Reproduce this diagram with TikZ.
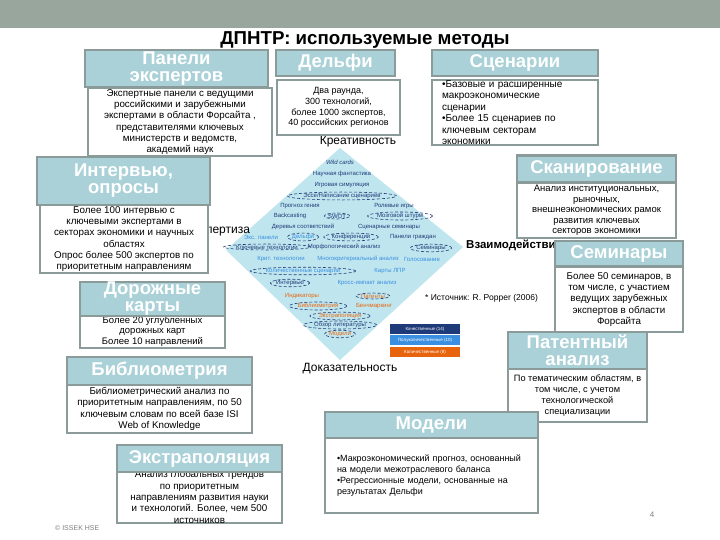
\documentclass[tikz,border=0pt]{standalone}
\usepackage{fontspec}
\setmainfont{Liberation Sans}
\usetikzlibrary{shapes.geometric}
\definecolor{barc}{HTML}{98A69D}
\definecolor{hdrc}{HTML}{A9D1D7}
\definecolor{brdc}{HTML}{8A9B9A}
\definecolor{diamc}{HTML}{BFE6EF}
\definecolor{dkb}{HTML}{1F3A78}
\definecolor{ltb}{HTML}{3A8FE0}
\definecolor{orc}{HTML}{E8640C}
\tikzset{
  hdr/.style={draw=brdc, line width=2.5pt, fill=hdrc, inner sep=0pt, text=white, align=center,
    font=\fontsize{18.5}{17}\selectfont\bfseries},
  bdy/.style={draw=brdc, line width=2.5pt, fill=white, inner sep=0pt, align=center,
    font=\fontsize{9.8}{11.3}\selectfont},
  lbl/.style={inner sep=0pt, font=\fontsize{12}{13}\selectfont},
  dm/.style={inner sep=0.5pt, font=\fontsize{6}{6.5}\selectfont, text=dkb},
  dml/.style={dm, text=ltb},
  dmo/.style={dm, text=orc},
  ov/.style={ellipse, draw=dkb, densely dashed, line width=0.6pt, inner sep=0pt},
  leg/.style={inner sep=0pt, minimum width=70pt, minimum height=10.5pt, text=white,
    font=\fontsize{4.5}{5}\selectfont}
}
\begin{document}
\begin{tikzpicture}[x=1pt,y=-1pt]
\useasboundingbox (0,0) rectangle (720,540);
\fill[white] (0,0) rectangle (720,540);
\fill[barc] (0,0) rectangle (720,28);
\node[inner sep=0pt, font=\fontsize{18.7}{19}\selectfont\bfseries] (title) at (365,40) {ДПНТР: используемые методы};

% diamond
\coordinate (dt) at (340,148);
\coordinate (dr) at (463,247);
\coordinate (db) at (340,360);
\coordinate (dl) at (226,250);
\fill[diamc] (dt) -- (dr) -- (db) -- (dl) -- cycle;
\node[lbl] (kreat) at (358,142) {Креативность};
\node[lbl] (dokaz) at (350,369) {Доказательность};
\node[lbl] (ekspt) at (218,231) {Экспертиза};
\node[lbl, font=\fontsize{11.5}{12}\selectfont\bfseries, anchor=west] (vzaim) at (466,245) {Взаимодействие};
\node[inner sep=0pt, anchor=west, font=\fontsize{8.5}{10}\selectfont] (src) at (425,298) {* Источник: R. Popper (2006)};

% diamond contents
\node[dm, font=\fontsize{6}{6.5}\selectfont\itshape] (d1) at (340,162) {Wild cards};
\node[dm] (d2) at (342,174) {Научная фантастика};
\node[dm] (d3) at (342,185) {Игровая симуляция};
\node[dm, ov] (d4) at (342,196) {Эссе/Написание сценариев};
\node[dm] (d5) at (300,206) {Прогноз гения};
\node[dm] (d6) at (394,206) {Ролевые игры};
\node[dm] (d7) at (290,216) {Backcasting};
\node[dm, ov] (d8) at (337,216) {SWOT};
\node[dm, ov] (d9) at (400,216) {Мозговой штурм};
\node[dm] (d10) at (303,227) {Деревья соответствий};
\node[dm] (d11) at (389,227) {Сценарные семинары};
\node[dml] (d12) at (261,237) {Экс. панели};
\node[dml, ov] (d13) at (303,237) {Дельфи};
\node[dm, ov] (d14) at (351,237) {Конференции};
\node[dm] (d15) at (413,237) {Панели граждан};
\node[dm, ov] (d16) at (267,247) {Ключевые технологии};
\node[dm] (d17) at (344,247) {Морфологический анализ};
\node[dm, ov] (d18) at (431,248) {Семинары};
\node[dml] (d19) at (281,259) {Крит. технологии};
\node[dml] (d20) at (358,259) {Многокритериальный анализ};
\node[dml] (d21) at (422,259) {Голосование};
\node[dml, ov] (d22) at (303,271) {Количественные сценарии};
\node[dml] (d23) at (390,271) {Карты ЛПР};
\node[dm, ov] (d24) at (290,283) {Интервью};
\node[dml] (d25) at (367,283) {Кросс-импакт анализ};
\node[dmo] (d26) at (302,296) {Индикаторы};
\node[dmo, ov] (d27) at (373,296) {Патенты};
\node[dmo, ov] (d28) at (318,306) {Библиометрия};
\node[dmo] (d29) at (374,306) {Бенчмаркинг};
\node[dmo, ov] (d30) at (340,316) {Экстраполяция};
\node[dm, ov] (d31) at (340,325) {Обзор литературы};
\node[dmo, ov] (d32) at (340,334) {Модели};

% legend
\node[leg, fill=dkb] (lg1) at (425,329) {Качественные (14)};
\node[leg, fill=ltb] (lg2) at (425,340) {Полуколичественные (10)};
\node[leg, fill=orc] (lg3) at (425,352) {Количественные (8)};

% boxes
\node[bdy, minimum width=184pt, minimum height=68pt] (pb) at (180,122) {Экспертные панели с ведущими\\российскими и зарубежными\\экспертами в области Форсайта ,\\представителями ключевых\\министерств и ведомств,\\академий наук};
\node[hdr, minimum width=183pt, minimum height=37pt] (ph) at (176.5,68.5) {Панели\\экспертов};

\node[bdy, minimum width=123pt, minimum height=55pt, font=\fontsize{9}{10.8}\selectfont] (db1) at (338.5,107.5) {Два раунда,\\300 технологий,\\более 1000 экспертов,\\40 российских регионов};
\node[hdr, minimum width=119pt, minimum height=26pt] (dh) at (335.5,63) {Дельфи};

\node[bdy, minimum width=166pt, minimum height=65pt, align=left, text width=146pt, font=\fontsize{10}{11.5}\selectfont] (sb) at (515,112.5) {•Базовые и расширенные\\макроэкономические\\сценарии\\•Более 15 сценариев по\\ключевым секторам\\экономики};
\node[hdr, minimum width=166pt, minimum height=26pt] (sh) at (515,63) {Сценарии};

\node[bdy, minimum width=168pt, minimum height=68pt] (ib) at (124,239) {Более 100 интервью с\\ключевыми экспертами в\\секторах экономики и научных\\областях\\Опрос более 500 экспертов по\\приоритетным направлениям};
\node[hdr, minimum width=173pt, minimum height=48pt] (ih) at (123.5,181) {Интервью,\\опросы};

\node[bdy, minimum width=159pt, minimum height=55pt, font=\fontsize{9.5}{10.6}\selectfont] (skb) at (596.5,210.5) {Анализ институциональных,\\рыночных,\\внешнеэкономических рамок\\развития ключевых\\секторов экономики};
\node[hdr, minimum width=159pt, minimum height=27pt] (skh) at (596.5,169) {Сканирование};

\node[bdy, minimum width=128pt, minimum height=65pt] (smb) at (619,299.5) {Более 50 семинаров, в\\том числе, с участием\\ведущих зарубежных\\экспертов в области\\Форсайта};
\node[hdr, minimum width=128pt, minimum height=25pt] (smh) at (619,253.5) {Семинары};

\node[bdy, minimum width=145pt, minimum height=33pt, font=\fontsize{9.5}{10.5}\selectfont] (drb) at (152.5,331.5) {Более 20 углубленных\\дорожных карт\\Более 10 направлений};
\node[hdr, minimum width=145pt, minimum height=32pt] (drh) at (152.5,299) {Дорожные\\карты};

\node[bdy, minimum width=139pt, minimum height=53pt, font=\fontsize{9.2}{10.8}\selectfont] (pab) at (577.5,395.5) {По тематическим областям, в\\том числе, с учетом\\технологической\\специализации};
\node[hdr, minimum width=139pt, minimum height=37pt] (pah) at (577.5,350.5) {Патентный\\анализ};

\node[bdy, minimum width=185pt, minimum height=48pt] (bib) at (159.5,409) {Библиометрический анализ по\\приоритетным направлениям, по 50\\ключевым словам по всей базе ISI\\Web of Knowledge};
\node[hdr, minimum width=185pt, minimum height=28pt] (bih) at (159.5,371) {Библиометрия};

\node[bdy, minimum width=213pt, minimum height=75pt, align=left, text width=189pt, font=\fontsize{9}{11}\selectfont] (mb) at (431.5,475.5) {•Макроэкономический прогноз, основанный\\на модели межотраслевого баланса\\•Регрессионные модели, основанные на\\результатах Дельфи};
\node[hdr, minimum width=213pt, minimum height=26pt] (mh) at (431.5,425) {Модели};

\node[bdy, minimum width=165pt, minimum height=50pt] (eb) at (199.5,497) {Анализ глобальных трендов\\по приоритетным\\направлениям развития науки\\и технологий. Более, чем 500\\источников};
\node[hdr, minimum width=165pt, minimum height=27pt] (eh) at (199.5,458.5) {Экстраполяция};

\node[inner sep=0pt, anchor=west, text=gray, font=\fontsize{7}{8}\selectfont] (copy) at (55,528) {© ISSEK HSE};
\node[inner sep=0pt, text=gray, font=\fontsize{8}{9}\selectfont] (pg) at (652,515) {4};
\end{tikzpicture}
\end{document}
